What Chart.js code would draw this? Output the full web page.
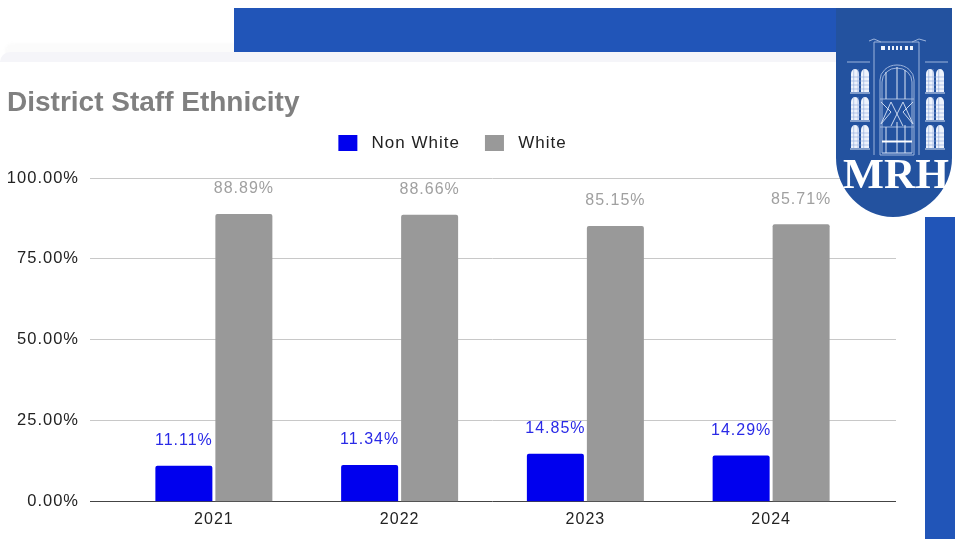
<!DOCTYPE html>
<html>
<head>
<meta charset="utf-8">
<script src="https://cdn.jsdelivr.net/npm/chart.js@4"></script>
<style>
html,body{margin:0;padding:0;background:#fff;width:955px;height:539px;overflow:hidden}
#wrap{position:relative;width:955px;height:539px}
.d{position:absolute}
canvas{position:absolute;left:0;top:0}
svg{position:absolute;left:0;top:0}
</style>
</head>
<body>
<div id="wrap">
<div class="d" style="left:5px;top:43px;width:831px;height:12px;background:#fbfbfb;border-radius:8px 0 0 0;filter:blur(1px)"></div>
<div class="d" style="left:0;top:52px;width:836px;height:10px;background:#f5f5f9;border-radius:10px 0 0 0;filter:blur(.6px)"></div>
<div class="d" style="left:234px;top:8px;width:604px;height:44px;background:#2155b8"></div>
<div class="d" style="left:925px;top:217px;width:30px;height:322px;background:#2155b8"></div>
<canvas id="c" width="955" height="539" style="width:955px;height:539px"></canvas>
<svg width="955" height="539" viewBox="0 0 955 539">
  <defs>
    <g id="win">
      <path d="M0 23V5a4 5 0 0 1 8 0V23Z M10 23V5a4 5 0 0 1 8 0V23Z" fill="#eef3fc"/>
      <path d="M0 8H18M0 12H18M0 16H18M0 20H18M2.7 0V23M7 0V23M12.7 0V23" stroke="#8fa9dc" stroke-width=".6" fill="none"/>
      <path d="M-1 24H19" stroke="#dfe7f6" stroke-width="1"/>
    </g>
  </defs>
  <path d="M836 8H952V158C952 190 925 217 893 217C862 217 836 190 836 158Z" fill="#23529f"/>
  <g stroke="#9db4dc" fill="none" stroke-width="1">
    <path d="M847 62H870M925 62H948"/>
    <path d="M874 155V42M919 155V42M869 41L874 39L881 42M912 42L919 39L926 41M874 42H919"/>
    <path d="M880 155V80a17 15 0 0 1 34 0V155Z"/>
    <path d="M882 153V82a15 14 0 0 1 30 0V153Z"/>
    <path d="M880 99H914M880 127H914M882 153H912"/>
    <path d="M886 72V99M897 67V99M905 70V99M886 127V153M897 122V153M905 125V153" stroke="#dfe7f6"/>
    <path d="M881 102L891 112L881 124M891 102L903 126M903 102L891 126M913 102L903 112L913 124M881 124L891 102M913 124L903 102" stroke="#c8d6ee"/>
  </g>
  <path d="M882 141.500H912" stroke="#fff" stroke-width="2"/>
  <path d="M881 46h4v4h-4zM888 46h2v4h-2zM892 46h2v4h-2zM896 46h2v4h-2zM900 46h2v4h-2zM905 46h3v4h-3zM910 46h3v4h-3z" fill="#eef3fc"/>
  <use href="#win" x="851" y="69"/><use href="#win" x="851" y="97"/><use href="#win" x="851" y="125"/>
  <use href="#win" x="926" y="69"/><use href="#win" x="926" y="97"/><use href="#win" x="926" y="125"/>
  <text x="896" y="188" text-anchor="middle" font-family="Liberation Serif" font-weight="700" font-size="43" fill="#fff" textLength="106" lengthAdjust="spacingAndGlyphs">MRH</text>
</svg>
</div>
<script>
const categories = ['2021', '2022', '2023', '2024'];
const nonWhite = [11.11, 11.34, 14.85, 14.29];
const white = [88.89, 88.66, 85.15, 85.71];
const tickValues = [0, 25, 50, 75, 100];
const seriesNames = ['Non White', 'White'];
const titleText = 'District Staff Ethnicity';

const FONT = '"Liberation Sans", Arial, sans-serif';
const SPACING = '1px';

const helper = {
  id: 'helper',
  beforeInit(chart) {
    const lg = chart.legend;
    const fit = lg.fit;
    lg.fit = function () { fit.call(this); this.height = 56; };
    const tb = chart.titleBlock;
    const tdraw = tb.draw;
    tb.draw = function () {
      const c = this.ctx || chart.ctx;
      const keep = c.letterSpacing;
      c.letterSpacing = '0px';
      tdraw.apply(this, arguments);
      c.letterSpacing = keep;
    };
  },
  afterLayout(chart) {
    const lg = chart.legend;
    lg.left += 9; lg.right += 9;
    lg.top -= 12.6; lg.bottom -= 12.6;
  },
  beforeDraw(chart) {
    chart.ctx.letterSpacing = SPACING;
  },
  beforeDatasetsDraw(chart) {
    const { ctx, scales, chartArea } = chart;
    ctx.save();
    ctx.lineWidth = 1;
    tickValues.forEach(v => {
      const y = Math.round(scales.y.getPixelForValue(v) - .5) + .5;
      ctx.strokeStyle = v === 0 ? '#444' : '#c8c8c8';
      ctx.beginPath(); ctx.moveTo(chartArea.right, y); ctx.lineTo(896, y); ctx.stroke();
    });
    ctx.restore();
  },
  afterDatasetsDraw(chart) {
    const { ctx } = chart;
    ctx.save();
    ctx.font = '16px ' + FONT;
    ctx.letterSpacing = SPACING;
    ctx.textAlign = 'center';
    ctx.textBaseline = 'middle';
    chart.data.datasets.forEach((ds, i) => {
      ctx.fillStyle = ds.labelColor;
      chart.getDatasetMeta(i).data.forEach((bar, j) => {
        ctx.fillText(ds.data[j].toFixed(2) + '%', bar.x, bar.y - 25);
      });
    });
    ctx.restore();
  }
};

new Chart(document.getElementById('c'), {
  type: 'bar',
  data: {
    labels: categories,
    datasets: [
      { label: seriesNames[0], data: nonWhite, backgroundColor: '#0000ee', labelColor: '#2a2ae6',
        borderRadius: { topLeft: 2, topRight: 2 }, borderSkipped: 'bottom', categoryPercentage: .646, barPercentage: .95 },
      { label: seriesNames[1], data: white, backgroundColor: '#999999', labelColor: '#a0a0a0',
        borderRadius: { topLeft: 2, topRight: 2 }, borderSkipped: 'bottom', categoryPercentage: .646, barPercentage: .95 }
    ]
  },
  plugins: [helper],
  options: {
    responsive: false,
    animation: false,
    devicePixelRatio: 1,
    layout: { padding: { left: 7, right: 91, top: 0, bottom: 2 } },
    plugins: {
      tooltip: { enabled: false },
      title: {
        display: true, text: titleText, align: 'start', color: '#808080',
        font: { family: FONT, size: 28, weight: 'bold' },
        padding: { top: 86, bottom: 2.4 }
      },
      legend: {
        position: 'top',
        labels: {
          color: '#222', boxWidth: 19, boxHeight: 16, padding: 25,
          font: { family: FONT, size: 17 },
          generateLabels(chart) {
            return Chart.defaults.plugins.legend.labels.generateLabels(chart).map(it => { it.text = '\u00a0' + it.text; return it; });
          }
        }
      }
    },
    scales: {
      x: {
        grid: { display: false, drawTicks: false },
        border: { display: false },
        ticks: { color: '#222', padding: 8, font: { family: FONT, size: 16 } }
      },
      y: {
        min: 0, max: 100,
        afterFit(s) { s.width = 114; },
        afterBuildTicks(s) { s.ticks = tickValues.map(v => ({ value: v })); },
        border: { display: false },
        grid: {
          tickLength: 31,
          color: c => c.tick && c.tick.value === 0 ? '#444' : '#c8c8c8',
          lineWidth: 1
        },
        ticks: {
          color: '#222', padding: 11, font: { family: FONT, size: 16.5 },
          callback: v => v.toFixed(2) + '%'
        }
      }
    }
  }
});
</script>
</body>
</html>
